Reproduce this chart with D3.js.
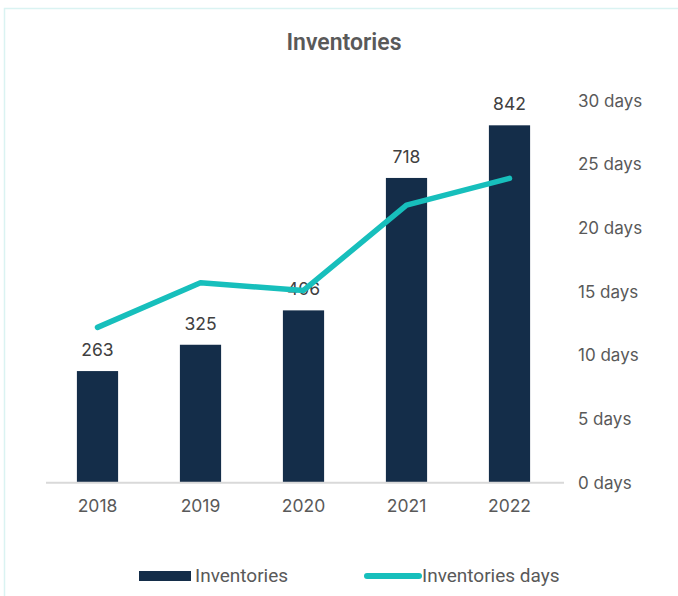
<!DOCTYPE html>
<html>
<head>
<meta charset="utf-8">
<script src="https://cdn.jsdelivr.net/npm/d3@7"></script>
<style>
  html, body { margin: 0; padding: 0; background: #fff; }
  svg { display: block; }
</style>
</head>
<body>
<div id="chart"></div>
<script>
// Inventories (bars, left hidden scale) and inventory days (line, right axis)
const years = ["2018", "2019", "2020", "2021", "2022"];
const inventories = [263, 325, 406, 718, 842];
const inventoryDays = [12.2, 15.7, 15.1, 21.8, 23.9];
const dayTicks = [0, 5, 10, 15, 20, 25, 30];

const W = 678, H = 596;
const svg = d3.select("#chart").append("svg")
  .attr("width", W).attr("height", H);

// light frame around the chart area
svg.append("rect")
  .attr("x", 4.5).attr("y", 8.5)
  .attr("width", W + 10).attr("height", H + 10)
  .attr("fill", "none").attr("stroke", "#daf3f2").attr("stroke-width", 1.5);

const plot = { left: 46, right: 564, top: 100.7, bottom: 482.7 };

const x = d3.scaleBand().domain(years)
  .range([plot.left, plot.left + 515]).paddingInner(0.6).paddingOuter(0.3);
const yBar = d3.scaleLinear().domain([0, 900]).range([plot.bottom, plot.top]);
const yDays = d3.scaleLinear().domain([0, 30]).range([plot.bottom, plot.top]);

const textColor = "#595959";
const tickFont = "Inter, 'Open Sans', sans-serif";
const labelFont = "Roboto, 'Noto Sans', sans-serif";

// title
svg.append("text")
  .attr("x", 344).attr("y", 50)
  .attr("text-anchor", "middle")
  .attr("font-family", labelFont).attr("font-weight", 600)
  .attr("font-size", 23).attr("fill", textColor)
  .text("Inventories");

// bars
svg.append("g").selectAll("rect")
  .data(inventories)
  .join("rect")
  .attr("x", (d, i) => x(years[i]))
  .attr("width", x.bandwidth())
  .attr("y", d => yBar(d))
  .attr("height", d => yBar(0) - yBar(d))
  .attr("fill", "#142d49");

// category axis
const xAxis = svg.append("g")
  .attr("transform", `translate(0,${plot.bottom})`)
  .call(d3.axisBottom(x).tickSize(0).tickPadding(17));
xAxis.select(".domain").attr("stroke", "#d9d9d9").attr("stroke-width", 2)
  .attr("d", `M${plot.left},0H${plot.right}`);
xAxis.selectAll("text")
  .attr("font-family", tickFont).attr("font-size", 17.5).attr("fill", textColor);

// right axis for days
const yAxis = svg.append("g")
  .attr("transform", `translate(${plot.right + 6},0)`)
  .call(d3.axisRight(yDays).tickValues(dayTicks).tickSize(0).tickPadding(8)
    .tickFormat(d => `${d} days`));
yAxis.select(".domain").remove();
yAxis.selectAll("text")
  .attr("font-family", tickFont).attr("font-size", 17).attr("fill", textColor);

// bar value labels
svg.append("g").selectAll("text")
  .data(inventories)
  .join("text")
  .attr("x", (d, i) => x(years[i]) + x.bandwidth() / 2)
  .attr("y", d => yBar(d) - 15)
  .attr("text-anchor", "middle")
  .attr("font-family", tickFont).attr("font-size", 17.5).attr("fill", "#404040")
  .text(d => d);

// days line
const line = d3.line()
  .x((d, i) => x(years[i]) + x.bandwidth() / 2)
  .y(d => yDays(d));
svg.append("path")
  .datum(inventoryDays)
  .attr("d", line)
  .attr("fill", "none")
  .attr("stroke", "#17bfbc")
  .attr("stroke-width", 5.5)
  .attr("stroke-linecap", "round")
  .attr("stroke-linejoin", "round");

// legend
const legend = svg.append("g").attr("font-family", labelFont)
  .attr("font-size", 19).attr("fill", textColor);
legend.append("rect")
  .attr("x", 139).attr("y", 571).attr("width", 52).attr("height", 10)
  .attr("fill", "#142d49");
legend.append("text").attr("x", 195).attr("y", 582).text("Inventories");
legend.append("line")
  .attr("x1", 367).attr("x2", 419).attr("y1", 576).attr("y2", 576)
  .attr("stroke", "#17bfbc").attr("stroke-width", 6).attr("stroke-linecap", "round");
legend.append("text").attr("x", 422).attr("y", 582).text("Inventories days");
</script>
</body>
</html>
